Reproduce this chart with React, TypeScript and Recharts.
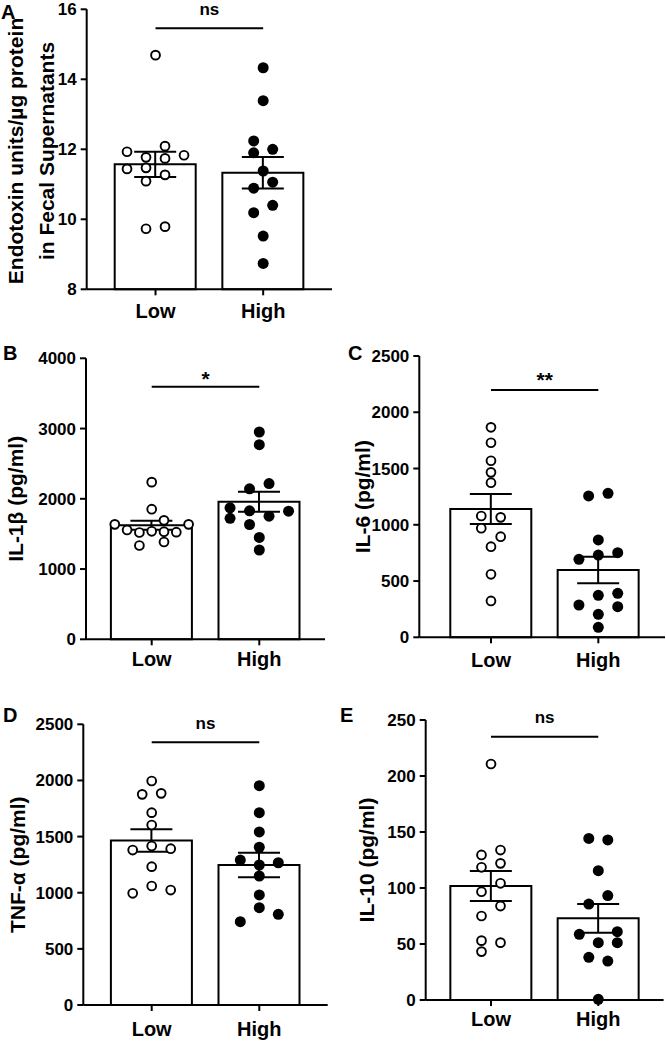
import React from "react";
import { ComposedChart, Bar, Scatter, XAxis, YAxis, ErrorBar, ReferenceLine } from "recharts";

const groups = ["Low", "High"];

// A – endotoxin in fecal supernatants
const endoLow = [14.69, 11.93, 12.09, 11.77, 11.74, 11.83, 11.44, 11.47, 11.27, 11.09, 9.73, 9.79];
const endoLowLanes = [0, -1.5, 0.5, -0.5, 0.5, 1.5, -1.5, -0.5, 0.5, -0.5, -0.5, 0.5];
const endoHigh = [14.33, 13.39, 12.24, 11.9, 12.0, 11.38, 11.06, 10.89, 10.4, 10.19, 9.52, 8.74];
const endoHighLanes = [0, 0, -0.5, -0.5, 0.5, 0, 0.5, -0.5, 0.5, -0.5, 0, 0];
const endoMean = [11.57, 11.33];
const endoSem = [0.36, 0.45];
const endoTicks = [8, 10, 12, 14, 16];

// B – IL-1β
const il1bLow = [2237, 1852, 1636, 1636, 1693, 1556, 1520, 1537, 1532, 1525, 1335, 1385];
const il1bLowLanes = [0, 0, -3, 3, 1, -2, -1, 0, 1, 2, -1, 1];
const il1bHigh = [2951, 2771, 2142, 2216, 1872, 1722, 1829, 1753, 1824, 1634, 1450, 1271];
const il1bHighLanes = [0, 0, -0.5, 0.5, -1.5, -1.5, -0.5, 0.5, 1.5, -0.5, 0, 0];
const il1bMean = [1624, 1957];
const il1bSem = [64, 142];
const il1bTicks = [0, 1000, 2000, 3000, 4000];

// C – IL-6
const il6Low = [1866, 1729, 1569, 1466, 1374, 1078, 1066, 969, 894, 805, 560, 323];
const il6LowLanes = [0, 0, 0, 0, 0, -0.5, 0.5, -0.5, 0.5, 0, 0, 0];
const il6High = [1256, 1280, 865, 693, 731, 752, 373, 391, 287, 272, 204, 89];
const il6HighLanes = [-0.5, 0.5, 0, -1, 0, 1, 0, 1, -1, 1, 0, 0];
const il6Mean = [1140, 598];
const il6Sem = [134, 117];
const il6Ticks = [0, 500, 1000, 1500, 2000, 2500];

// D – TNF-α
const tnfLow = [1995, 1876, 1885, 1713, 1603, 1416, 1380, 1392, 1232, 1060, 995, 1024];
const tnfLowLanes = [0, -0.5, 0.5, 0, 0, 0, -1, 1, 0, 0, -1, 1];
const tnfHigh = [1953, 1713, 1541, 1405, 1291, 1247, 1267, 1149, 980, 867, 808, 742];
const tnfHighLanes = [0, 0, 0, 0, -1, 0, 1, 0, 0, 0, 1, -1];
const tnfMean = [1465, 1247];
const tnfSem = [100, 110];
const tnfTicks = [0, 500, 1000, 1500, 2000, 2500];

// E – IL-10
const il10Low = [210.7, 129.5, 133.9, 118.5, 122, 104.2, 96.7, 83.9, 75, 53, 51.2, 43.2];
const il10LowLanes = [0, -0.5, 0.5, -0.5, 0.5, 0.5, -0.5, 0.5, -0.5, -0.5, 0.5, -0.5];
const il10High = [144.3, 142.9, 115.5, 93.2, 85.7, 58.6, 61, 51.2, 51.2, 38.1, 34.8, 0.6];
const il10HighLanes = [-0.5, 0.5, 0, 0.5, -0.5, -1, 1, 0, 1, -0.5, 0.5, 0];
const il10Mean = [101.8, 72.9];
const il10Sem = [13.4, 12.8];
const il10Ticks = [0, 50, 100, 150, 200, 250];

const ink = "#000";
const font = "'Liberation Sans', Arial, sans-serif";

const openDot = (step: number) => (props: any) => (
  <circle cx={props.cx + props.payload.lane * step} cy={props.cy} r={4.4} fill="#fff" stroke={ink} strokeWidth={1.9} />
);
const filledDot = (step: number) => (props: any) => (
  <circle cx={props.cx + props.payload.lane * step} cy={props.cy} r={5.5} fill={ink} />
);

type PanelProps = {
  left: number;
  top: number;
  width: number;
  axisX: number;
  plotRight: number;
  plotTop: number;
  plotBottom: number;
  pad: [number, number];
  labelGap: number;
  domain: [number, number];
  ticks: number[];
  mean: number[];
  sem: number[];
  low: number[];
  lowLanes: number[];
  high: number[];
  highLanes: number[];
  lowStep: number;
  highStep: number;
  sigY: number;
  sigText: string;
  sigSize: number;
  sigOffset: number;
};

function Panel(p: PanelProps) {
  const height = p.plotBottom - p.top + 40;
  const bars = groups.map((g, i) => ({ group: g, value: p.mean[i], err: p.sem[i] }));
  const lowPts = p.low.map((v, i) => ({ group: "Low", value: v, lane: p.lowLanes[i] }));
  const highPts = p.high.map((v, i) => ({ group: "High", value: v, lane: p.highLanes[i] }));
  return (
    <div style={{ position: "absolute", left: p.left, top: p.top }}>
      <ComposedChart
        width={p.width}
        height={height}
        data={bars}
        margin={{ top: p.plotTop - p.top, right: p.left + p.width - p.plotRight, bottom: 0, left: 0 }}
      >
        <XAxis
          dataKey="group"
          type="category"
          allowDuplicatedCategory={false}
          padding={{ left: p.pad[0], right: p.pad[1] }}
          height={40}
          tickSize={6}
          tickMargin={p.labelGap}
          tick={{ fill: ink, fontSize: 20, fontWeight: 700 }}
          axisLine={{ stroke: ink, strokeWidth: 2 }}
          tickLine={{ stroke: ink, strokeWidth: 2 }}
        />
        <YAxis
          type="number"
          domain={p.domain}
          ticks={p.ticks}
          interval={0}
          width={p.axisX - p.left}
          tickSize={6}
          tickMargin={4}
          tick={{ fill: ink, fontSize: 17, fontWeight: 700 }}
          axisLine={{ stroke: ink, strokeWidth: 2 }}
          tickLine={{ stroke: ink, strokeWidth: 2 }}
        />
        <Bar dataKey="value" fill="#fff" stroke={ink} strokeWidth={2} barSize={81} isAnimationActive={false}>
          <ErrorBar dataKey="err" width={21} stroke={ink} strokeWidth={2} direction="y" />
        </Bar>
        <Scatter data={lowPts} dataKey="value" shape={openDot(p.lowStep)} isAnimationActive={false} />
        <Scatter data={highPts} dataKey="value" shape={filledDot(p.highStep)} isAnimationActive={false} />
        <ReferenceLine
          segment={[
            { x: "Low", y: p.sigY },
            { x: "High", y: p.sigY },
          ]}
          stroke={ink}
          strokeWidth={2}
          label={{ value: p.sigText, position: "top", offset: p.sigOffset, fill: ink, fontSize: p.sigSize, fontWeight: 700 }}
        />
      </ComposedChart>
    </div>
  );
}

const letterStyle = { fontSize: 20, fontWeight: 700, fill: ink };
const titleStyle = { fontSize: 21, fontWeight: 700, fill: ink };

function Title({ x, y, text }: { x: number; y: number; text: string }) {
  return (
    <text x={x} y={y} transform={`rotate(-90, ${x}, ${y})`} textAnchor="middle" style={titleStyle}>
      {text}
    </text>
  );
}

export default function App() {
  return (
    <div
      style={{
        position: "absolute",
        left: 0,
        top: 0,
        width: 666,
        height: 1041,
        overflow: "hidden",
        background: "#fff",
        fontFamily: font,
      }}
    >
      <Panel
        left={0} top={0} width={340}
        axisX={86.7} plotRight={332} plotTop={9.3} plotBottom={289.3}
        pad={[15, 15]} labelGap={8.7}
        domain={[8, 16]} ticks={endoTicks}
        mean={endoMean} sem={endoSem}
        low={endoLow} lowLanes={endoLowLanes} high={endoHigh} highLanes={endoHighLanes}
        lowStep={19} highStep={19}
        sigY={15.46} sigText="ns" sigSize={17} sigOffset={13}
      />
      <Panel
        left={0} top={330} width={335}
        axisX={86} plotRight={325} plotTop={358.3} plotBottom={639.3}
        pad={[11.9, 11.9]} labelGap={6.4}
        domain={[0, 4000]} ticks={il1bTicks}
        mean={il1bMean} sem={il1bSem}
        low={il1bLow} lowLanes={il1bLowLanes} high={il1bHigh} highLanes={il1bHighLanes}
        lowStep={12.3} highStep={19.5}
        sigY={3596} sigText="*" sigSize={21} sigOffset={1}
      />
      <Panel
        left={330} top={330} width={336}
        axisX={419.3} plotRight={665} plotTop={356} plotBottom={637.3}
        pad={[18, 13]} labelGap={10}
        domain={[0, 2500]} ticks={il6Ticks}
        mean={il6Mean} sem={il6Sem}
        low={il6Low} lowLanes={il6LowLanes} high={il6High} highLanes={il6HighLanes}
        lowStep={19.4} highStep={19.4}
        sigY={2197} sigText="**" sigSize={21} sigOffset={2.7}
      />
      <Panel
        left={0} top={690} width={335}
        axisX={83.3} plotRight={327.7} plotTop={724.3} plotBottom={1005}
        pad={[14.6, 14.6]} labelGap={10.7}
        domain={[0, 2500]} ticks={tnfTicks}
        mean={tnfMean} sem={tnfSem}
        low={tnfLow} lowLanes={tnfLowLanes} high={tnfHigh} highLanes={tnfHighLanes}
        lowStep={19} highStep={19}
        sigY={2340} sigText="ns" sigSize={17} sigOffset={13}
      />
      <Panel
        left={330} top={690} width={336}
        axisX={425.7} plotRight={663.6} plotTop={720} plotBottom={1000}
        pad={[11.65, 11.65]} labelGap={5.7}
        domain={[0, 250]} ticks={il10Ticks}
        mean={il10Mean} sem={il10Sem}
        low={il10Low} lowLanes={il10LowLanes} high={il10High} highLanes={il10HighLanes}
        lowStep={19} highStep={19}
        sigY={235} sigText="ns" sigSize={17} sigOffset={13.4}
      />
      <svg width={666} height={1041} style={{ position: "absolute", left: 0, top: 0, pointerEvents: "none" }}>
        <text x={1} y={19} style={letterStyle}>A</text>
        <text x={3} y={360} style={letterStyle}>B</text>
        <text x={348} y={360} style={letterStyle}>C</text>
        <text x={3} y={722} style={letterStyle}>D</text>
        <text x={340} y={722} style={letterStyle}>E</text>
        <Title x={23} y={151} text="Endotoxin units/µg protein" />
        <Title x={54} y={151} text="in Fecal Supernatants" />
        <Title x={23} y={498.8} text="IL-1β (pg/ml)" />
        <Title x={370} y={496.7} text="IL-6 (pg/ml)" />
        <Title x={25} y={864.7} text="TNF-α (pg/ml)" />
        <Title x={374} y={860} text="IL-10 (pg/ml)" />
      </svg>
    </div>
  );
}
